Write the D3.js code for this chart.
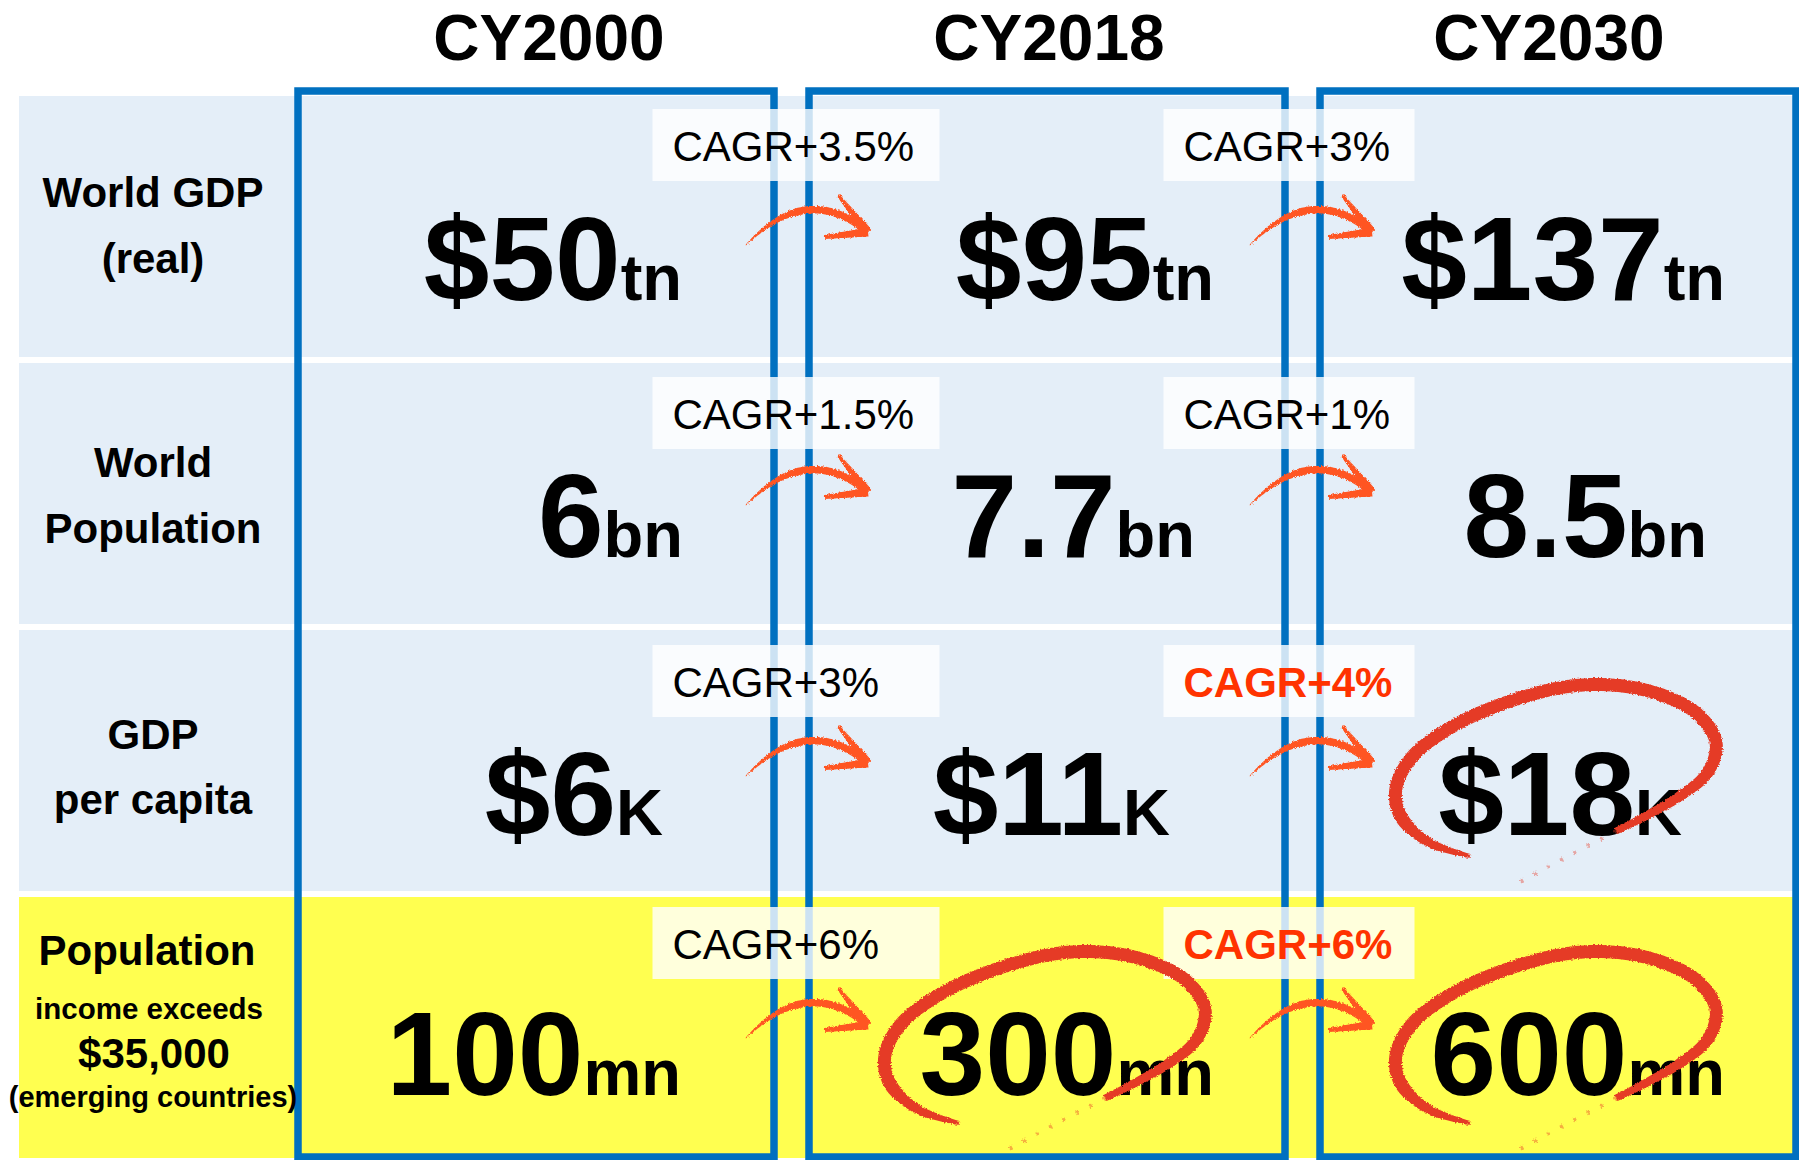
<!DOCTYPE html>
<html>
<head>
<meta charset="utf-8">
<script src="https://cdn.jsdelivr.net/npm/d3@7"></script>
<style>
html, body { margin: 0; padding: 0; background: #fff; }
svg { display: block; font-family: "Liberation Sans", Arial, sans-serif; }
</style>
</head>
<body>
<svg id="chart" width="1799" height="1160"></svg>
<script>
// ---- data ----
const years = ['CY2000', 'CY2018', 'CY2030'];
const rowLabels = [
	['World GDP', '(real)'],
	['World', 'Population'],
	['GDP', 'per capita'],
	['Population', 'income exceeds', '$35,000', '(emerging countries)'],
];
const valueNumbers = [
	['$50', '$95', '$137'],
	['6', '7.7', '8.5'],
	['$6', '$11', '$18'],
	['100', '300', '600'],
];
const valueUnits = ['tn', 'bn', 'K', 'mn'];
const cagrLabels = [
	['CAGR+3.5%', 'CAGR+3%'],
	['CAGR+1.5%', 'CAGR+1%'],
	['CAGR+3%', 'CAGR+4%'],
	['CAGR+6%', 'CAGR+6%'],
];
const cagrEmphasis = [
	[false, false],
	[false, false],
	[false, true],
	[false, true],
];
const circled = [
	[false, false, false],
	[false, false, false],
	[false, false, true],
	[false, true, true],
];
const yellowRow = 3;

// ---- layout ----
const W = 1799, H = 1160;
const rowFill = '#e4eef8', yellowFill = '#ffff50', boxBlue = '#0070c0';
const arrowColor = '#ff5522', circleColor = '#e53a25', cagrRed = '#ff3300';

// text baselines measured from each row top
const labelBase = [[111, 177], [114, 180], [119, 184], [68, 122, 171, 210]];
const labelSize = [[42, 42], [42, 42], [42, 42], [42, 29.5, 42, 29]];
const labelX = [[153, 153], [153, 153], [153, 153], [147, 149, 154, 153]];
const valueBase = [204, 194, 205, 198];
// right end of each value, measured from the column box left
const valueEnd = [
	[384, 405, 405],
	[385, 386, 387],
	[365, 361, 362],
	[383, 405, 405],
];
const cagrTop = [13, 14, 15, 10];
const cagrWidth = [287, 251];
const arrowStart = [[746, 149], [1250, 149]];
const arrowRowShift = [0, -7, -3, -8];

const svg = d3.select('#chart');

const x = d3.scaleBand().domain(years).range([298, 1796]).paddingInner(35 / 511);
const y = d3.scaleBand().domain(d3.range(rowLabels.length)).range([96, 1158]).paddingInner(6 / 267);
const xHead = d3.scalePoint().domain(years).range([549, 1549]);

// rough edge filter for the hand-drawn marks
const defs = svg.append('defs');
const filt = defs.append('filter').attr('id', 'rough')
	.attr('x', '-10%').attr('y', '-10%').attr('width', '120%').attr('height', '120%');
filt.append('feTurbulence').attr('type', 'fractalNoise').attr('baseFrequency', 0.7)
	.attr('numOctaves', 2).attr('seed', 4).attr('result', 'n');
filt.append('feDisplacementMap').attr('in', 'SourceGraphic').attr('in2', 'n')
	.attr('scale', 3.5).attr('xChannelSelector', 'R').attr('yChannelSelector', 'G');

// row backgrounds
svg.selectAll('.rowbg')
	.data(d3.range(rowLabels.length))
	.enter().append('rect')
	.attr('class', 'rowbg')
	.attr('x', 19).attr('y', d => y(d))
	.attr('width', W - 19).attr('height', y.bandwidth())
	.attr('fill', d => d === yellowRow ? yellowFill : rowFill);

// column boxes
svg.selectAll('.colbox')
	.data(years)
	.enter().append('rect')
	.attr('class', 'colbox')
	.attr('x', d => x(d)).attr('y', 91)
	.attr('width', x.bandwidth()).attr('height', 1157 - 91)
	.attr('fill', 'none').attr('stroke', boxBlue).attr('stroke-width', 7.5);

// column headings
svg.selectAll('.head')
	.data(years)
	.enter().append('text')
	.attr('class', 'head')
	.attr('x', d => xHead(d)).attr('y', 60)
	.attr('text-anchor', 'middle')
	.attr('font-size', 64).attr('font-weight', 'bold')
	.text(d => d);

// row labels
rowLabels.forEach((lines, r) => {
	svg.append('g').selectAll('text')
		.data(lines)
		.enter().append('text')
		.attr('x', (d, k) => labelX[r][k])
		.attr('y', (d, k) => y(r) + labelBase[r][k])
		.attr('text-anchor', 'middle')
		.attr('font-weight', 'bold')
		.attr('font-size', (d, k) => labelSize[r][k])
		.text(d => d);
});

// values
valueNumbers.forEach((row, r) => {
	row.forEach((num, c) => {
		let t = svg.append('text')
			.attr('x', x(years[c]) + valueEnd[r][c])
			.attr('y', y(r) + valueBase[r])
			.attr('text-anchor', 'end')
			.attr('font-weight', 'bold');
		t.append('tspan').attr('font-size', 118).text(num);
		t.append('tspan').attr('font-size', 65).text(valueUnits[r]);
	});
});

// CAGR labels between the columns
const gapCenter = i => (x(years[i]) + x.bandwidth() + x(years[i + 1])) / 2;
cagrLabels.forEach((pair, r) => {
	pair.forEach((label, i) => {
		let left = gapCenter(i) - 139,
			top = y(r) + cagrTop[r];
		svg.append('rect')
			.attr('x', left).attr('y', top)
			.attr('width', cagrWidth[i]).attr('height', 72)
			.attr('fill', '#fff').attr('fill-opacity', 0.8);
		svg.append('text')
			.attr('x', left + 20).attr('y', top + 52)
			.attr('font-size', 42)
			.attr('font-weight', cagrEmphasis[r][i] ? 'bold' : 'normal')
			.attr('fill', cagrEmphasis[r][i] ? cagrRed : '#000')
			.text(label);
	});
});

// tapered stroke: sample a path and build an outline polygon
const probe = defs.append('path');
function tapered(d, widthAt, n = 90) {
	probe.attr('d', d);
	let node = probe.node(), len = node.getTotalLength(), pts = [];
	for (let k = 0; k <= n; k += 1) pts.push(node.getPointAtLength(len * k / n));
	let left = [], right = [];
	pts.forEach((p, k) => {
		let a = pts[Math.max(0, k - 1)], b = pts[Math.min(n, k + 1)],
			dx = b.x - a.x, dy = b.y - a.y, l = Math.hypot(dx, dy) || 1,
			w = widthAt(k / n) / 2;
		left.push([p.x - dy / l * w, p.y + dx / l * w]);
		right.push([p.x + dy / l * w, p.y - dx / l * w]);
	});
	return 'M' + left.concat(right.reverse()).map(p => p.join(',')).join('L') + 'Z';
}

// curved arrows
const arrowCurve = 'M0,0 Q61,-63.5 122,-13';
const barbUp = 'M92,-50 L122,-13';
const barbLow = 'M79,-8 L122,-13';
rowLabels.forEach((_, r) => {
	arrowStart.forEach(([ax, ay]) => {
		let g = svg.append('g')
			.attr('transform', `translate(${ax},${y(r) + ay + arrowRowShift[r]})`)
			.attr('fill', arrowColor).attr('filter', 'url(#rough)');
		g.append('path').attr('d', tapered(arrowCurve, t => 1 + 6.5 * Math.min(1, t / 0.45)));
		g.append('path').attr('d', tapered(barbUp, t => 3 + 6 * t, 30));
		g.append('path').attr('d', tapered(barbLow, t => 4 + 5 * t, 30));
	});
});

// hand-drawn circles around highlighted values
const loopLine = d3.line().curve(d3.curveCatmullRom);
const loopSolid = [[150, 226], [108, 212], [80, 185], [76, 158], [92, 127], [135, 95], [200, 68], [262, 55], [325, 60], [375, 82], [396, 112], [388, 142], [360, 166], [322, 188], [296, 201]];
const loopTail = [[296, 201], [262, 219], [228, 237], [195, 255]];
circled.forEach((row, r) => {
	row.forEach((on, c) => {
		if (!on) return;
		let g = svg.append('g')
			.attr('transform', `translate(${x(years[c])},${y(r)})`)
			.attr('filter', 'url(#rough)');
		g.append('path')
			.attr('d', tapered(loopLine(loopSolid), t => 4 + 9 * Math.min(1, t / 0.12) * Math.min(1, (1 - t) / 0.3 + 0.3), 160))
			.attr('fill', circleColor);
		g.append('path')
			.attr('d', loopLine(loopTail))
			.attr('fill', 'none').attr('stroke', circleColor)
			.attr('stroke-width', 4).attr('stroke-dasharray', '3 12')
			.attr('stroke-opacity', 0.4);
	});
});
</script>
</body>
</html>
